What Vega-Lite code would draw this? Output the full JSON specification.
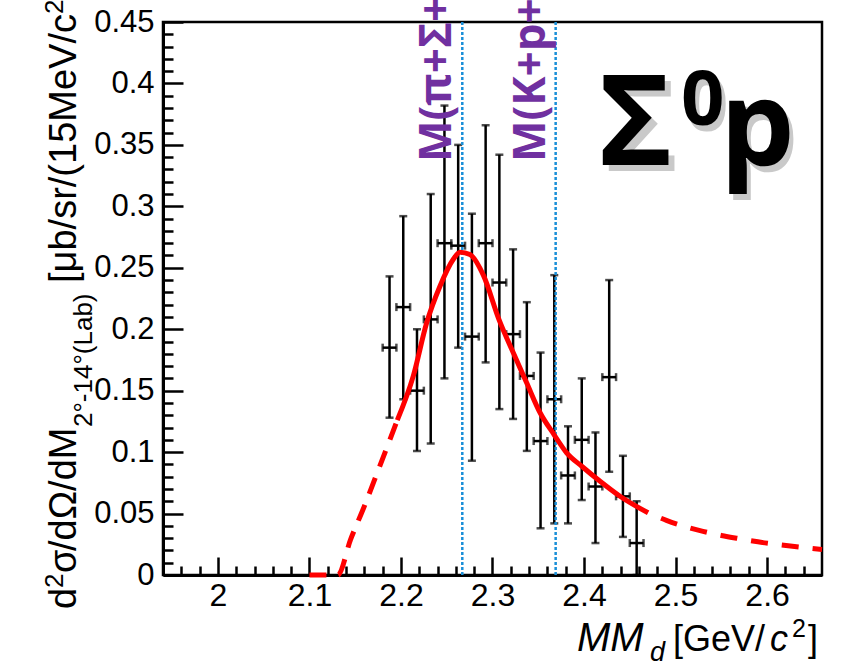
{
  "$schema": "https://vega.github.io/schema/vega-lite/v6.json",
  "autosize": {"type": "none"},
  "width": 659,
  "height": 553,
  "padding": {"left": 163, "top": 22, "right": 23, "bottom": 92},
  "background": "white",
  "config": {
    "font": "Liberation Sans",
    "view": {"stroke": "black", "strokeWidth": 2.5}
  },
  "resolve": {"axis": {"x": "independent", "y": "independent"}},
  "datasets": {
    "points": [
      {"x": 2.1875, "x0": 2.18, "x1": 2.195, "y": 0.185, "lo": 0.128, "hi": 0.243},
      {"x": 2.2025, "x0": 2.195, "x1": 2.21, "y": 0.218, "lo": 0.143, "hi": 0.292},
      {"x": 2.2175, "x0": 2.21, "x1": 2.225, "y": 0.150, "lo": 0.101, "hi": 0.200},
      {"x": 2.2325, "x0": 2.225, "x1": 2.24, "y": 0.208, "lo": 0.107, "hi": 0.310},
      {"x": 2.2475, "x0": 2.24, "x1": 2.255, "y": 0.270, "lo": 0.160, "hi": 0.382},
      {"x": 2.2625, "x0": 2.255, "x1": 2.27, "y": 0.268, "lo": 0.185, "hi": 0.350},
      {"x": 2.2775, "x0": 2.27, "x1": 2.285, "y": 0.194, "lo": 0.093, "hi": 0.294},
      {"x": 2.2925, "x0": 2.285, "x1": 2.30, "y": 0.270, "lo": 0.173, "hi": 0.366},
      {"x": 2.3075, "x0": 2.30, "x1": 2.315, "y": 0.238, "lo": 0.135, "hi": 0.342},
      {"x": 2.3225, "x0": 2.315, "x1": 2.33, "y": 0.196, "lo": 0.127, "hi": 0.265},
      {"x": 2.3375, "x0": 2.33, "x1": 2.345, "y": 0.162, "lo": 0.101, "hi": 0.222},
      {"x": 2.3525, "x0": 2.345, "x1": 2.36, "y": 0.109, "lo": 0.038, "hi": 0.181},
      {"x": 2.3675, "x0": 2.36, "x1": 2.375, "y": 0.143, "lo": 0.042, "hi": 0.244},
      {"x": 2.3825, "x0": 2.375, "x1": 2.39, "y": 0.081, "lo": 0.042, "hi": 0.121},
      {"x": 2.3975, "x0": 2.39, "x1": 2.405, "y": 0.110, "lo": 0.061, "hi": 0.160},
      {"x": 2.4125, "x0": 2.405, "x1": 2.42, "y": 0.072, "lo": 0.026, "hi": 0.116},
      {"x": 2.4275, "x0": 2.42, "x1": 2.435, "y": 0.161, "lo": 0.084, "hi": 0.240},
      {"x": 2.4425, "x0": 2.435, "x1": 2.45, "y": 0.064, "lo": 0.031, "hi": 0.097},
      {"x": 2.4575, "x0": 2.45, "x1": 2.465, "y": 0.026, "lo": 0.0, "hi": 0.060}
    ],
    "fit": [
      {"part": "low", "x": 2.100, "y": 0.0},
      {"part": "low", "x": 2.131, "y": 0.0},
      {"part": "low", "x": 2.145, "y": 0.029},
      {"part": "low", "x": 2.160, "y": 0.056},
      {"part": "low", "x": 2.175, "y": 0.085},
      {"part": "low", "x": 2.196, "y": 0.126},
      {"part": "mid", "x": 2.196, "y": 0.126},
      {"part": "mid", "x": 2.2135, "y": 0.162},
      {"part": "mid", "x": 2.228, "y": 0.205},
      {"part": "mid", "x": 2.2426, "y": 0.235},
      {"part": "mid", "x": 2.257, "y": 0.2567},
      {"part": "mid", "x": 2.2645, "y": 0.2627},
      {"part": "mid", "x": 2.2754, "y": 0.2608},
      {"part": "mid", "x": 2.290, "y": 0.244},
      {"part": "mid", "x": 2.307, "y": 0.208},
      {"part": "mid", "x": 2.3227, "y": 0.1808},
      {"part": "mid", "x": 2.3373, "y": 0.1564},
      {"part": "mid", "x": 2.352, "y": 0.132},
      {"part": "mid", "x": 2.3672, "y": 0.1143},
      {"part": "mid", "x": 2.381, "y": 0.0994},
      {"part": "mid", "x": 2.3975, "y": 0.0885},
      {"part": "mid", "x": 2.4175, "y": 0.0763},
      {"part": "mid", "x": 2.4393, "y": 0.0641},
      {"part": "mid", "x": 2.470, "y": 0.0506},
      {"part": "high", "x": 2.470, "y": 0.0506},
      {"part": "high", "x": 2.490, "y": 0.0445},
      {"part": "high", "x": 2.510, "y": 0.0395},
      {"part": "high", "x": 2.530, "y": 0.0355},
      {"part": "high", "x": 2.550, "y": 0.0322},
      {"part": "high", "x": 2.570, "y": 0.0295},
      {"part": "high", "x": 2.590, "y": 0.0270},
      {"part": "high", "x": 2.610, "y": 0.0250},
      {"part": "high", "x": 2.630, "y": 0.0232},
      {"part": "high", "x": 2.660, "y": 0.0208}
    ],
    "thresholds": [
      {"m": 2.267, "label": "M(π+Σ+p)"},
      {"m": 2.369, "label": "M(K+p+p)"}
    ],
    "tag": [{"n": 1}]
  },
  "layer": [
    {
      "data": {"name": "points"},
      "mark": {"type": "rule", "color": "black", "strokeWidth": 2.5},
      "encoding": {
        "x": {
          "field": "x",
          "type": "quantitative",
          "scale": {"domain": [1.94, 2.66], "nice": false, "zero": false},
          "axis": {
            "orient": "bottom",
            "title": null,
            "values": [2.0, 2.1, 2.2, 2.3, 2.4, 2.5, 2.6],
            "format": "~g",
            "labelOverlap": false,
            "labelFlush": false,
            "labelFontSize": 32,
            "labelColor": "black",
            "labelPadding": 23,
            "domainColor": "black",
            "domainWidth": 3,
            "tickColor": "black",
            "tickWidth": 2.5,
            "tickSize": -18,
            "grid": false
          }
        },
        "y": {
          "field": "lo",
          "type": "quantitative",
          "scale": {"domain": [0, 0.45], "nice": false},
          "axis": {
            "orient": "left",
            "title": null,
            "values": [0, 0.05, 0.1, 0.15, 0.2, 0.25, 0.3, 0.35, 0.4, 0.45],
            "format": "~g",
            "labelOverlap": false,
            "labelFlush": false,
            "labelFontSize": 31,
            "labelColor": "black",
            "labelPadding": 29,
            "domainColor": "black",
            "domainWidth": 3,
            "tickColor": "black",
            "tickWidth": 2.5,
            "tickSize": -20,
            "grid": false
          }
        },
        "y2": {"field": "hi"}
      }
    },
    {
      "data": {"name": "points"},
      "mark": {"type": "rule", "color": "black", "strokeWidth": 2.5},
      "encoding": {
        "x": {
          "field": "x0",
          "type": "quantitative",
          "axis": {
            "orient": "bottom",
            "title": null,
            "values": [1.94, 1.96, 1.98, 2.02, 2.04, 2.06, 2.08, 2.12, 2.14, 2.16, 2.18, 2.22, 2.24, 2.26, 2.28, 2.32, 2.34, 2.36, 2.38, 2.42, 2.44, 2.46, 2.48, 2.52, 2.54, 2.56, 2.58, 2.62, 2.64],
            "labels": false,
            "domain": false,
            "tickColor": "black",
            "tickWidth": 2.5,
            "tickSize": -9,
            "grid": false
          }
        },
        "x2": {"field": "x1"},
        "y": {
          "field": "y",
          "type": "quantitative",
          "axis": {
            "orient": "left",
            "title": null,
            "values": [0.01, 0.02, 0.03, 0.04, 0.06, 0.07, 0.08, 0.09, 0.11, 0.12, 0.13, 0.14, 0.16, 0.17, 0.18, 0.19, 0.21, 0.22, 0.23, 0.24, 0.26, 0.27, 0.28, 0.29, 0.31, 0.32, 0.33, 0.34, 0.36, 0.37, 0.38, 0.39, 0.41, 0.42, 0.43, 0.44],
            "labels": false,
            "domain": false,
            "tickColor": "black",
            "tickWidth": 2.5,
            "tickSize": -10,
            "grid": false
          }
        }
      }
    },
    {
      "data": {"name": "points"},
      "mark": {"type": "tick", "color": "black", "orient": "horizontal", "size": 8, "thickness": 2.5},
      "encoding": {
        "x": {"field": "x", "type": "quantitative", "axis": null},
        "y": {"field": "hi", "type": "quantitative", "axis": null}
      }
    },
    {
      "data": {"name": "points"},
      "mark": {"type": "tick", "color": "black", "orient": "horizontal", "size": 8, "thickness": 2.5},
      "encoding": {
        "x": {"field": "x", "type": "quantitative", "axis": null},
        "y": {"field": "lo", "type": "quantitative", "axis": null}
      }
    },
    {
      "data": {"name": "points"},
      "mark": {"type": "tick", "color": "black", "orient": "vertical", "size": 8, "thickness": 2.5},
      "encoding": {
        "x": {"field": "x0", "type": "quantitative", "axis": null},
        "y": {"field": "y", "type": "quantitative", "axis": null}
      }
    },
    {
      "data": {"name": "points"},
      "mark": {"type": "tick", "color": "black", "orient": "vertical", "size": 8, "thickness": 2.5},
      "encoding": {
        "x": {"field": "x1", "type": "quantitative", "axis": null},
        "y": {"field": "y", "type": "quantitative", "axis": null}
      }
    },
    {
      "data": {"name": "thresholds"},
      "mark": {"type": "rule", "color": "#1a8fd8", "strokeWidth": 2.5, "strokeDash": [3, 2]},
      "encoding": {
        "x": {"field": "m", "type": "quantitative", "axis": null},
        "y": {"datum": 0, "axis": null},
        "y2": {"datum": 0.45}
      }
    },
    {
      "data": {"name": "fit"},
      "transform": [{"filter": "datum.part === 'low'"}],
      "mark": {"type": "line", "color": "#ff0000", "strokeWidth": 5, "interpolate": "monotone", "strokeDash": [17, 12]},
      "encoding": {
        "x": {"field": "x", "type": "quantitative", "axis": null},
        "y": {"field": "y", "type": "quantitative", "axis": null}
      }
    },
    {
      "data": {"name": "fit"},
      "transform": [{"filter": "datum.part === 'mid'"}],
      "mark": {"type": "line", "color": "#ff0000", "strokeWidth": 5, "interpolate": "monotone"},
      "encoding": {
        "x": {"field": "x", "type": "quantitative", "axis": null},
        "y": {"field": "y", "type": "quantitative", "axis": null}
      }
    },
    {
      "data": {"name": "fit"},
      "transform": [{"filter": "datum.part === 'high'"}],
      "mark": {"type": "line", "color": "#ff0000", "strokeWidth": 5, "interpolate": "monotone", "strokeDash": [17, 14], "strokeDashOffset": 17},
      "encoding": {
        "x": {"field": "x", "type": "quantitative", "axis": null},
        "y": {"field": "y", "type": "quantitative", "axis": null}
      }
    },
    {
      "data": {"name": "thresholds"},
      "mark": {"type": "text", "color": "#7030a0", "font": "Open Sans", "fontWeight": "bold", "fontSize": 44, "angle": 270, "align": "left", "baseline": "alphabetic", "dy": -11},
      "encoding": {
        "x": {"field": "m", "type": "quantitative", "axis": null},
        "y": {"datum": 0.336, "axis": null},
        "text": {"field": "label"}
      }
    },
    {
      "data": {"name": "tag"},
      "mark": {"type": "text", "text": "Σ", "color": "#888888", "opacity": 0.45, "font": "Open Sans", "fontWeight": "bold", "fontSize": 126, "align": "left", "baseline": "alphabetic", "dx": 4, "dy": 6},
      "encoding": {"x": {"datum": 2.4175, "axis": null}, "y": {"datum": 0.334, "axis": null}}
    },
    {
      "data": {"name": "tag"},
      "mark": {"type": "text", "text": "0", "color": "#888888", "opacity": 0.45, "font": "Open Sans", "fontWeight": "bold", "fontSize": 76, "align": "left", "baseline": "alphabetic", "dx": 85, "dy": -34},
      "encoding": {"x": {"datum": 2.4175, "axis": null}, "y": {"datum": 0.334, "axis": null}}
    },
    {
      "data": {"name": "tag"},
      "mark": {"type": "text", "text": "p", "color": "#888888", "opacity": 0.45, "font": "Open Sans", "fontWeight": "bold", "fontSize": 118, "align": "left", "baseline": "alphabetic", "dx": 124, "dy": 6},
      "encoding": {"x": {"datum": 2.4175, "axis": null}, "y": {"datum": 0.334, "axis": null}}
    },
    {
      "data": {"name": "tag"},
      "mark": {"type": "text", "text": "Σ", "color": "black", "font": "Open Sans", "fontWeight": "bold", "fontSize": 126, "align": "left", "baseline": "alphabetic", "dx": -2},
      "encoding": {"x": {"datum": 2.4175, "axis": null}, "y": {"datum": 0.334, "axis": null}}
    },
    {
      "data": {"name": "tag"},
      "mark": {"type": "text", "text": "0", "color": "black", "font": "Open Sans", "fontWeight": "bold", "fontSize": 76, "align": "left", "baseline": "alphabetic", "dx": 81, "dy": -40},
      "encoding": {"x": {"datum": 2.4175, "axis": null}, "y": {"datum": 0.334, "axis": null}}
    },
    {
      "data": {"name": "tag"},
      "mark": {"type": "text", "text": "p", "color": "black", "font": "Open Sans", "fontWeight": "bold", "fontSize": 118, "align": "left", "baseline": "alphabetic", "dx": 120},
      "encoding": {"x": {"datum": 2.4175, "axis": null}, "y": {"datum": 0.334, "axis": null}}
    },
    {
      "data": {"name": "tag"},
      "mark": {"type": "text", "text": "MM", "fontStyle": "italic", "fontSize": 40, "color": "black", "align": "left", "baseline": "alphabetic", "dx": -245, "dy": 76},
      "encoding": {"x": {"datum": 2.66, "axis": null}, "y": {"datum": 0, "axis": null}}
    },
    {
      "data": {"name": "tag"},
      "mark": {"type": "text", "text": "d", "fontStyle": "italic", "fontSize": 27, "color": "black", "align": "left", "baseline": "alphabetic", "dx": -172, "dy": 86},
      "encoding": {"x": {"datum": 2.66, "axis": null}, "y": {"datum": 0, "axis": null}}
    },
    {
      "data": {"name": "tag"},
      "mark": {"type": "text", "text": "[GeV/", "fontSize": 36, "color": "black", "align": "left", "baseline": "alphabetic", "dx": -149, "dy": 76},
      "encoding": {"x": {"datum": 2.66, "axis": null}, "y": {"datum": 0, "axis": null}}
    },
    {
      "data": {"name": "tag"},
      "mark": {"type": "text", "text": "c", "fontStyle": "italic", "fontSize": 36, "color": "black", "align": "left", "baseline": "alphabetic", "dx": -52, "dy": 76},
      "encoding": {"x": {"datum": 2.66, "axis": null}, "y": {"datum": 0, "axis": null}}
    },
    {
      "data": {"name": "tag"},
      "mark": {"type": "text", "text": "2", "fontSize": 25, "color": "black", "align": "left", "baseline": "alphabetic", "dx": -30, "dy": 62},
      "encoding": {"x": {"datum": 2.66, "axis": null}, "y": {"datum": 0, "axis": null}}
    },
    {
      "data": {"name": "tag"},
      "mark": {"type": "text", "text": "]", "fontSize": 36, "color": "black", "align": "left", "baseline": "alphabetic", "dx": -14, "dy": 76},
      "encoding": {"x": {"datum": 2.66, "axis": null}, "y": {"datum": 0, "axis": null}}
    },
    {
      "data": {"name": "tag"},
      "mark": {"type": "text", "text": "d", "fontSize": 38, "color": "black", "angle": 270, "align": "left", "baseline": "alphabetic", "dx": -34, "dy": -87},
      "encoding": {"x": {"datum": 1.94, "axis": null}, "y": {"datum": 0, "axis": null}}
    },
    {
      "data": {"name": "tag"},
      "mark": {"type": "text", "text": "2", "fontSize": 26, "color": "black", "angle": 270, "align": "left", "baseline": "alphabetic", "dx": -13, "dy": -100},
      "encoding": {"x": {"datum": 1.94, "axis": null}, "y": {"datum": 0, "axis": null}}
    },
    {
      "data": {"name": "tag"},
      "mark": {"type": "text", "text": "σ", "fontSize": 38, "color": "black", "angle": 270, "align": "left", "baseline": "alphabetic", "dx": 2, "dy": -87},
      "encoding": {"x": {"datum": 1.94, "axis": null}, "y": {"datum": 0, "axis": null}}
    },
    {
      "data": {"name": "tag"},
      "mark": {"type": "text", "text": "/dΩ/dM", "fontSize": 38, "color": "black", "angle": 270, "align": "left", "baseline": "alphabetic", "dx": 24, "dy": -87},
      "encoding": {"x": {"datum": 1.94, "axis": null}, "y": {"datum": 0, "axis": null}}
    },
    {
      "data": {"name": "tag"},
      "mark": {"type": "text", "text": "2°-14°(Lab)", "fontSize": 26, "color": "black", "angle": 270, "align": "left", "baseline": "alphabetic", "dx": 148, "dy": -71},
      "encoding": {"x": {"datum": 1.94, "axis": null}, "y": {"datum": 0, "axis": null}}
    },
    {
      "data": {"name": "tag"},
      "mark": {"type": "text", "text": "[μb/sr/(15MeV/", "fontSize": 38, "color": "black", "angle": 270, "align": "left", "baseline": "alphabetic", "dx": 292, "dy": -87},
      "encoding": {"x": {"datum": 1.94, "axis": null}, "y": {"datum": 0, "axis": null}}
    },
    {
      "data": {"name": "tag"},
      "mark": {"type": "text", "text": "c", "fontSize": 38, "color": "black", "angle": 270, "align": "left", "baseline": "alphabetic", "dx": 542, "dy": -87},
      "encoding": {"x": {"datum": 1.94, "axis": null}, "y": {"datum": 0, "axis": null}}
    },
    {
      "data": {"name": "tag"},
      "mark": {"type": "text", "text": "2", "fontSize": 26, "color": "black", "angle": 270, "align": "left", "baseline": "alphabetic", "dx": 561, "dy": -100},
      "encoding": {"x": {"datum": 1.94, "axis": null}, "y": {"datum": 0, "axis": null}}
    },
    {
      "data": {"name": "tag"},
      "mark": {"type": "text", "text": ")]", "fontSize": 38, "color": "black", "angle": 270, "align": "left", "baseline": "alphabetic", "dx": 575, "dy": -87},
      "encoding": {"x": {"datum": 1.94, "axis": null}, "y": {"datum": 0, "axis": null}}
    }
  ]
}
